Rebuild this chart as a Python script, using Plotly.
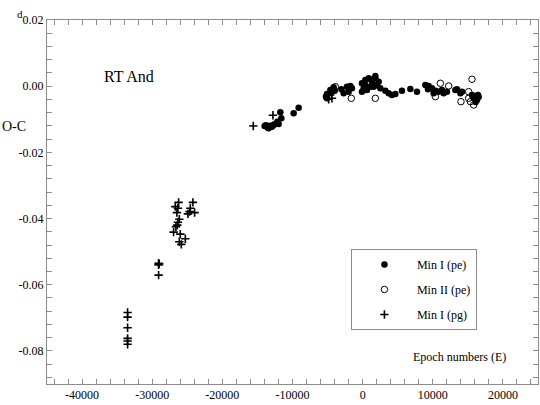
import plotly.graph_objects as go

# Min I (pe) - filled circles
pe1_epoch = [-13975, -13647, -13404, -13219, -12934, -12549, -12164, -11978, -11594, -11736,
             -13800, -13500, -13100, -12700, -9839, -9126, -5091,
             -5091, -4606, -4135, -5233, -4463, -3993, -3037, -2709, -2239, -1754, -1996, -1526,
             -100, 143, 385, 856, 1326, 1811, 1569, 2039, 2524, -100, 613, 1098, 385, 2282, 1200, 1811,
             3237, 3708, 4178, 4663, 5604, 6802, 7743,
             8941, 9312, 9882, 10367, 10838, 11308, 11551, 12021, 10125, 9412,
             13219, 13447, 13932, 14160, 15586, 16071, 16299, 15829, 16441, 16114, 16540]
pe1_oc = [-0.01203, -0.01224, -0.01272, -0.01194, -0.01224, -0.01151, -0.01073, -0.01142, -0.00970, -0.00789,
          -0.0118, -0.0125, -0.0121, -0.0117, -0.00819, -0.00650, -0.00366,
          -0.00236, -0.00115, -0.00033, -0.00317, -0.00215, -0.00136, -0.00094, -0.00215, -0.00015, 0.00006, -0.00166, -0.00063,
          0.00088, -0.00063, 0.00187, 0.00239, 0.00136, 0.00239, -0.00015, 0.00036, -0.00063, -0.00166, -0.00115, -0.00015, 0.00036, 0.00136, 0.0020, 0.0031,
          -0.00136, -0.00215, -0.00266, -0.00236, -0.00136, -0.00085, -0.00166,
          0.00036, -0.00094, -0.00063, -0.00136, -0.00166, -0.00115, -0.00215, -0.00166, -0.00215, 0.00006,
          -0.00115, -0.00094, -0.00215, -0.00166, -0.00266, -0.00317, -0.00417, -0.00366, -0.00266, -0.0048, -0.0033]

# Min II (pe) - open circles
pe2_epoch = [-3893, -1611, 1811, 11080, 10367, 12264, 14018, 15586, 15116, 15358, 15829, 16299, 15116]
pe2_oc = [-0.00015, -0.00366, -0.00366, 0.00088, -0.00317, 0.00006, -0.00468, 0.00209, -0.00166,
          -0.00468, -0.00568, -0.00317, -0.00366]

# Min I (pg) - crosses
pg_epoch = [-33510, -33510, -33510, -33510, -33510, -33510,
            -29090, -29090, -29090, -29000,
            -26238, -24200, -26709, -26339, -24570, -23957, -24912, -24670, -26481,
            -26139, -26339, -26424, -26951, -25996, -25283, -26139, -25854, -26624,
            -15590, -12790, -4848, -4378]
pg_oc = [-0.0684, -0.0698, -0.0730, -0.0762, -0.0770, -0.0780,
         -0.0535, -0.0540, -0.0571, -0.0537,
         -0.0351, -0.0351, -0.0364, -0.0369, -0.0369, -0.0382, -0.0386, -0.0379, -0.0382,
         -0.0402, -0.0411, -0.0420, -0.0441, -0.0447, -0.0461, -0.0470, -0.0478, -0.0425,
         -0.01203, -0.00879, -0.00396, -0.00366]

x_ticks = [-40000, -30000, -20000, -10000, 0, 10000, 20000]
x_labels = ["-40000", "-30000", "-20000", "-10000", "0", "10000", "20000"]
y_ticks = [0.02, 0.0, -0.02, -0.04, -0.06, -0.08]
y_labels = ["0.02", "0.00", "-0.02", "-0.04", "-0.06", "-0.08"]

FONT = "Liberation Serif"
AXIS_COL = "#8c8c8c"

fig = go.Figure()
fig.add_trace(go.Scatter(x=pe1_epoch, y=pe1_oc, mode="markers", name="Min I (pe)",
                         legendgroup="a",
                         marker=dict(symbol="circle", size=6.5, color="black")))
fig.add_trace(go.Scatter(x=pe2_epoch, y=pe2_oc, mode="markers", name="Min II (pe)",
                         legendgroup="b",
                         marker=dict(symbol="circle-open", size=6.5, color="black",
                                     line=dict(width=1, color="black"))))
fig.add_trace(go.Scatter(x=pg_epoch, y=pg_oc, mode="markers", name="Min I (pg)",
                         legendgroup="c",
                         marker=dict(symbol="cross-thin", size=6, color="black",
                                     line=dict(width=1.6, color="black"))))

fig.update_xaxes(
    range=[-45000, 25000], tickvals=x_ticks, ticktext=x_labels,
    ticks="inside", ticklen=5, tickcolor=AXIS_COL,
    minor=dict(dtick=2000, tick0=0, ticks="inside", ticklen=5, tickcolor=AXIS_COL),
    showline=True, linecolor=AXIS_COL, linewidth=1, mirror="allticks",
    showgrid=False, zeroline=False, automargin=False,
    tickfont=dict(family=FONT, size=12, color="black"),
)
fig.update_yaxes(
    range=[-0.09, 0.02], tickvals=y_ticks, ticktext=y_labels,
    ticks="inside", ticklen=5, tickcolor=AXIS_COL,
    minor=dict(dtick=0.004, tick0=0, ticks="inside", ticklen=5, tickcolor=AXIS_COL),
    showline=True, linecolor=AXIS_COL, linewidth=1, mirror="allticks",
    showgrid=False, zeroline=False, automargin=False,
    tickfont=dict(family=FONT, size=12, color="black"),
)

fig.add_annotation(x=-33370, y=0.0028, xref="x", yref="y", text="RT And", showarrow=False,
                   font=dict(family=FONT, size=16, color="black"))
fig.add_annotation(x=-0.0957, y=0.734, xref="paper", yref="paper", text="O-C", showarrow=False,
                   xanchor="left", font=dict(family=FONT, size=14, color="black"))
fig.add_annotation(x=-0.065, y=1.038, xref="paper", yref="paper", text="d", showarrow=False,
                   font=dict(family=FONT, size=11, color="black"))
fig.add_annotation(x=13830, y=-0.0818, xref="x", yref="y", text="Epoch numbers (E)", showarrow=False,
                   font=dict(family=FONT, size=12, color="black"))

fig.update_layout(
    width=540, height=405,
    margin=dict(l=47, r=2, t=20, b=21, autoexpand=False),
    paper_bgcolor="white", plot_bgcolor="white",
    showlegend=True,
    legend=dict(x=0.619, y=0.371, xanchor="left", yanchor="top",
                bordercolor=AXIS_COL, borderwidth=1, bgcolor="white",
                traceorder="grouped", itemwidth=55, tracegroupgap=6,
                font=dict(family=FONT, size=12, color="black")),
)

# the page body has a default 8px margin; drop it so the figure sits at 0,0
fig.write_html("out.html", config={"displayModeBar": False},
               post_script="document.body.style.margin='0';")
